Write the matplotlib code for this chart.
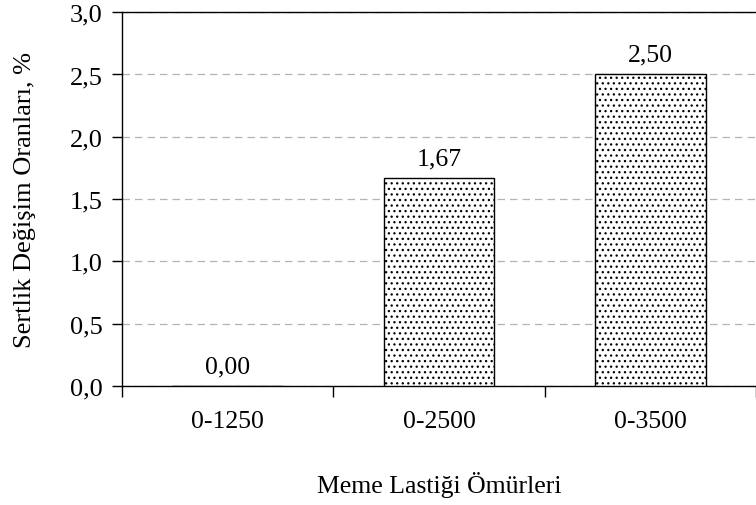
import matplotlib.pyplot as plt
import numpy as np

plt.rcParams['font.family'] = 'Liberation Serif'
plt.rcParams['hatch.linewidth'] = 0.9
plt.rcParams['hatch.color'] = '#444444'

# veriler
kategoriler = ['0-1250', '0-2500', '0-3500']
degerler = [0.00, 1.67, 2.50]
y_ticks = [0.0, 0.5, 1.0, 1.5, 2.0, 2.5, 3.0]

fig = plt.figure(figsize=(7.56, 5.06), dpi=100)
ax = fig.add_axes([122 / 756, 0.235, 1 - 122 / 756, 0.739])

x = np.arange(len(kategoriler))
ax.bar(x, degerler, width=0.525, color='white', edgecolor='black',
       linewidth=1.0, hatch='...', zorder=3)

for xi, v in zip(x, degerler):
    ax.text(xi, v + 0.07, ('%.2f' % v).replace('.', ','), ha='center',
            va='bottom', fontsize=18.5)

ax.set_ylim(0, 3.0)
ax.set_xlim(-0.5, 2.45)
ax.set_yticks(y_ticks)
ax.set_yticklabels([('%.1f' % t).replace('.', ',') for t in y_ticks])
ax.set_xticks(x)
ax.set_xticklabels(kategoriler)
ax.set_xticks(np.arange(-0.5, 3, 1.0), minor=True)
ax.tick_params(axis='x', which='major', length=0, pad=17, labelsize=18.5)
ax.tick_params(axis='x', which='minor', length=8, direction='out', width=1)
ax.tick_params(axis='y', length=7, direction='out', width=1, labelsize=19, pad=7)

ax.yaxis.grid(True, linestyle=(0, (6, 4)), color='#b4b4b4', linewidth=0.9, zorder=0)
ax.spines['right'].set_visible(False)
for s in ['left', 'top', 'bottom']:
    ax.spines[s].set_linewidth(1.0)

ax.set_ylabel('Sertlik Değişim Oranları, %', fontsize=19, labelpad=24)
ax.set_xlabel('Meme Lastiği Ömürleri', fontsize=18.5, labelpad=28)

fig.savefig('out.png', dpi=100)
